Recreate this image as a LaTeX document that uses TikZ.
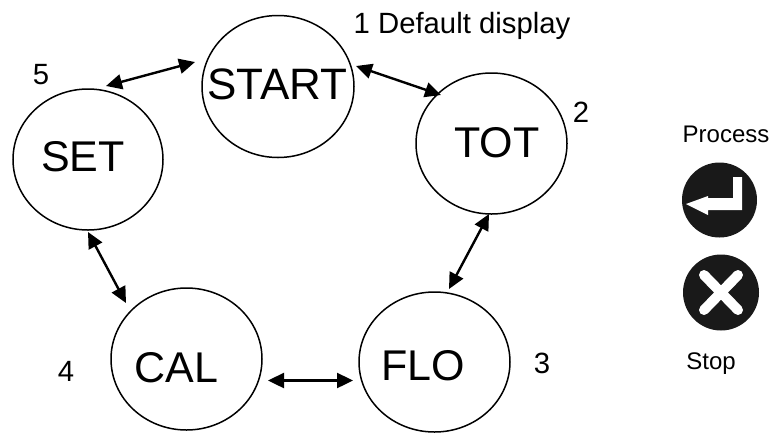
\documentclass[tikz,border=0pt]{standalone}
\usepackage{fontspec}
\setmainfont{Liberation Sans}
\usetikzlibrary{arrows.meta}
\begin{document}
\begin{tikzpicture}[x=1pt,y=-1pt,
  ring/.style={line width=1.5pt},
  word/.style={inner sep=0pt,anchor=base,font=\fontsize{43}{43}\selectfont},
  link/.style={line width=2.4pt,{Triangle[length=16pt,width=15pt]}-{Triangle[length=16pt,width=15pt]}},
  lab/.style={inner sep=0pt,font=\fontsize{29.3}{29.3}\selectfont,anchor=base},
  small/.style={inner sep=0pt,font=\fontsize{24}{24}\selectfont,anchor=base},
  key/.style={fill=black!90,draw=none}]
\useasboundingbox (0,0) rectangle (771,432);
\draw[ring] (278,86.5) ellipse [x radius=76,y radius=71];
\node[word,font=\fontsize{44}{44}\selectfont] (start) at (277.5,99) {START};
\draw[ring] (88,159.5) ellipse [x radius=75,y radius=70.5];
\node[word] (set) at (83,171) {SET};
\draw[ring] (491.5,143.5) ellipse [x radius=75.5,y radius=70.5];
\node[word] (tot) at (497,157) {TOT};
\draw[ring] (186.5,359) ellipse [x radius=75.5,y radius=71];
\node[word] (cal) at (176.5,382) {CAL};
\draw[ring] (434.5,362) ellipse [x radius=75.5,y radius=70];
\node[word] (flo) at (423,380) {FLO};
\coordinate (a1) at (106,86); \coordinate (a2) at (195,62);
\coordinate (b1) at (356,66); \coordinate (b2) at (441,95);
\coordinate (c1) at (489,214); \coordinate (c2) at (449,289);
\coordinate (d1) at (268,380.5); \coordinate (d2) at (353,380.5);
\coordinate (e1) at (88,232); \coordinate (e2) at (126,303);
\draw[link] (a1) -- (a2);
\draw[link] (b1) -- (b2);
\draw[link] (c1) -- (c2);
\draw[link] (d1) -- (d2);
\draw[link] (e1) -- (e2);
\node[lab] (l1) at (462,33) {1 Default display};
\node[lab] (l2) at (581,122.5) {2};
\node[lab] (l3) at (542,373.5) {3};
\node[lab] (l4) at (66,381.5) {4};
\node[lab] (l5) at (41,84) {5};
\node[small] (process) at (726,142) {Process};
\node[small] (stop) at (711,369) {Stop};
\fill[key] (719.5,200) circle [radius=37.5];
\fill[white] (686,204) -- (708,196) -- (708,198) -- (733,198) -- (733,177) -- (742,177) -- (742,210) -- (708,210) -- (708,215) -- cycle;
\fill[key] (721,292.5) circle [radius=38];
\draw[white,line width=10pt,line cap=round] (704,275) -- (738,310) (738,275) -- (704,310);
\end{tikzpicture}
\end{document}
